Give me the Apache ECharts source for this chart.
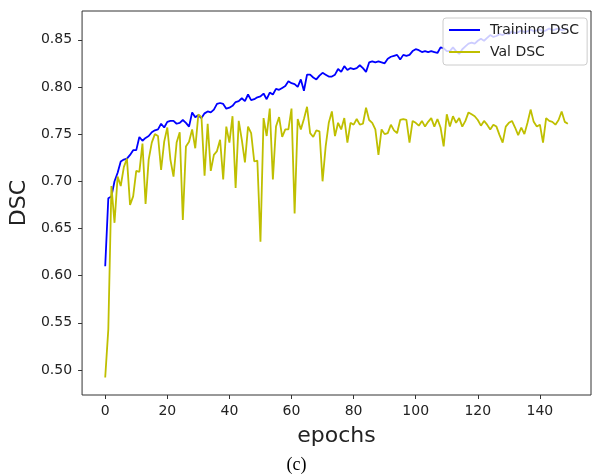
<!DOCTYPE html>
<html>
<head>
<meta charset="utf-8">
<script src="https://cdn.jsdelivr.net/npm/echarts@6/dist/echarts.min.js"></script>
<style>
  html, body { margin: 0; padding: 0; background: #fff; }
  #chart { width: 593px; height: 475px; }
</style>
</head>
<body>
<div id="chart"></div>
<script>
// DSC per epoch
var trainDSC = [
  0.610, 0.682, 0.684, 0.700, 0.709, 0.721, 0.723, 0.724, 0.728, 0.733,
  0.733, 0.747, 0.743, 0.746, 0.748, 0.752, 0.754, 0.755, 0.761, 0.757,
  0.763, 0.764, 0.764, 0.761, 0.762, 0.765, 0.762, 0.758, 0.773, 0.768,
  0.770, 0.767, 0.772, 0.774, 0.773, 0.776, 0.782, 0.783, 0.782, 0.777,
  0.778, 0.780, 0.784, 0.785, 0.788, 0.785, 0.792, 0.786, 0.787, 0.789,
  0.790, 0.793, 0.787, 0.794, 0.792, 0.798, 0.797, 0.799, 0.801, 0.806,
  0.804, 0.803, 0.800, 0.808, 0.796, 0.813, 0.813, 0.810, 0.808, 0.812,
  0.815, 0.813, 0.811, 0.811, 0.813, 0.819, 0.816, 0.822, 0.818, 0.820,
  0.819, 0.820, 0.823, 0.820, 0.816, 0.826, 0.827, 0.826, 0.827, 0.826,
  0.825, 0.830, 0.832, 0.833, 0.834, 0.829, 0.834, 0.833, 0.834, 0.838,
  0.840, 0.839, 0.837, 0.838, 0.837, 0.838, 0.837, 0.836, 0.842, 0.841,
  0.838, 0.838, 0.842, 0.838, 0.835, 0.840, 0.843, 0.846, 0.847, 0.846,
  0.849, 0.851, 0.849, 0.852, 0.855, 0.853, 0.854, 0.856, 0.855, 0.857,
  0.856, 0.859, 0.857, 0.858, 0.860, 0.858, 0.859, 0.861, 0.859, 0.860,
  0.861, 0.859, 0.860, 0.862, 0.860, 0.861, 0.862, 0.860, 0.861, 0.862
];
var valDSC = [
  0.492, 0.543, 0.695, 0.656, 0.705, 0.695, 0.715, 0.724, 0.675, 0.684,
  0.711, 0.710, 0.740, 0.676, 0.723, 0.741, 0.750, 0.748, 0.712, 0.742,
  0.757, 0.723, 0.705, 0.741, 0.752, 0.659, 0.737, 0.742, 0.755, 0.735,
  0.771, 0.768, 0.706, 0.761, 0.711, 0.728, 0.732, 0.744, 0.702, 0.758,
  0.741, 0.769, 0.693, 0.764, 0.744, 0.720, 0.758, 0.751, 0.721, 0.722,
  0.636, 0.767, 0.748, 0.777, 0.702, 0.758, 0.768, 0.747, 0.755, 0.755,
  0.777, 0.666, 0.766, 0.755, 0.766, 0.779, 0.751, 0.747, 0.754, 0.753,
  0.700, 0.737, 0.762, 0.774, 0.748, 0.762, 0.755, 0.767, 0.741, 0.762,
  0.760, 0.766, 0.760, 0.761, 0.778, 0.765, 0.762, 0.755, 0.728, 0.755,
  0.750, 0.751, 0.760, 0.754, 0.751, 0.765, 0.766, 0.765, 0.741, 0.764,
  0.762, 0.759, 0.764, 0.758, 0.763, 0.767, 0.758, 0.766, 0.757, 0.737,
  0.771, 0.758, 0.769, 0.762, 0.767, 0.758, 0.764, 0.773, 0.771, 0.769,
  0.765, 0.759, 0.764, 0.760, 0.755, 0.760, 0.758, 0.749, 0.741, 0.758,
  0.762, 0.764, 0.757, 0.749, 0.757, 0.750, 0.762, 0.776, 0.763, 0.758,
  0.760, 0.741, 0.767, 0.764, 0.763, 0.760, 0.765, 0.774, 0.763, 0.761
];
var xTicks = [0, 20, 40, 60, 80, 100, 120, 140];
var yTicks = [0.50, 0.55, 0.60, 0.65, 0.70, 0.75, 0.80, 0.85];

function toPairs(arr) {
  var out = [];
  for (var i = 0; i < arr.length; i++) out.push([i, arr[i]]);
  return out;
}

var myChart = echarts.init(document.getElementById('chart'));
var font = 'DejaVu Sans';
var option = {
  animation: false,
  backgroundColor: '#fff',
  textStyle: { fontFamily: font },
  title: {
    text: '(c)',
    left: 'center',
    top: 451,
    textStyle: { fontFamily: 'Liberation Serif', fontSize: 18, fontWeight: 'normal', color: '#000' }
  },
  legend: {
    left: 443,
    top: 18,
    orient: 'vertical',
    itemWidth: 31,
    itemHeight: 2,
    itemGap: 6,
    padding: [4, 8, 5, 6],
    backgroundColor: 'rgba(255,255,255,0.8)',
    borderColor: '#cccccc',
    borderWidth: 1,
    borderRadius: 3,
    textStyle: { fontFamily: font, fontSize: 14, color: '#222', lineHeight: 16, padding: [0, 0, 0, 5] },
    data: [
      { name: 'Training DSC', icon: 'rect' },
      { name: 'Val DSC', icon: 'rect' }
    ]
  },
  grid: {
    left: 79,
    right: 2,
    top: 11,
    bottom: 80,
    show: true,
    borderColor: '#333',
    borderWidth: 1,
    containLabel: false
  },
  xAxis: {
    type: 'value',
    min: -7.45,
    max: 156.45,
    name: 'epochs',
    nameLocation: 'middle',
    nameGap: 30,
    nameTextStyle: { fontFamily: font, fontSize: 22, color: '#222' },
    axisLine: { show: false, onZero: false },
    axisTick: { show: true, length: 4, lineStyle: { color: '#333' }, customValues: xTicks },
    axisLabel: { fontFamily: font, fontSize: 14, color: '#222', margin: 9, customValues: xTicks },
    splitLine: { show: false }
  },
  yAxis: {
    type: 'value',
    min: 0.4735,
    max: 0.8805,
    name: 'DSC',
    nameLocation: 'middle',
    nameGap: 52,
    nameRotate: 90,
    nameTextStyle: { fontFamily: font, fontSize: 22, color: '#222' },
    axisLine: { show: false, onZero: false },
    axisTick: { show: true, length: 4, lineStyle: { color: '#333' }, customValues: yTicks },
    axisLabel: {
      fontFamily: font, fontSize: 14, color: '#222', margin: 10, customValues: yTicks,
      formatter: function (v) { return v.toFixed(2); }
    },
    splitLine: { show: false }
  },
  series: [
    {
      name: 'Training DSC',
      type: 'line',
      symbol: 'none',
      data: toPairs(trainDSC),
      lineStyle: { color: '#0000ff', width: 1.8 },
      itemStyle: { color: '#0000ff' }
    },
    {
      name: 'Val DSC',
      type: 'line',
      symbol: 'none',
      data: toPairs(valDSC),
      lineStyle: { color: '#bfbf00', width: 1.8 },
      itemStyle: { color: '#bfbf00' }
    }
  ]
};
myChart.setOption(option);
</script>
</body>
</html>
